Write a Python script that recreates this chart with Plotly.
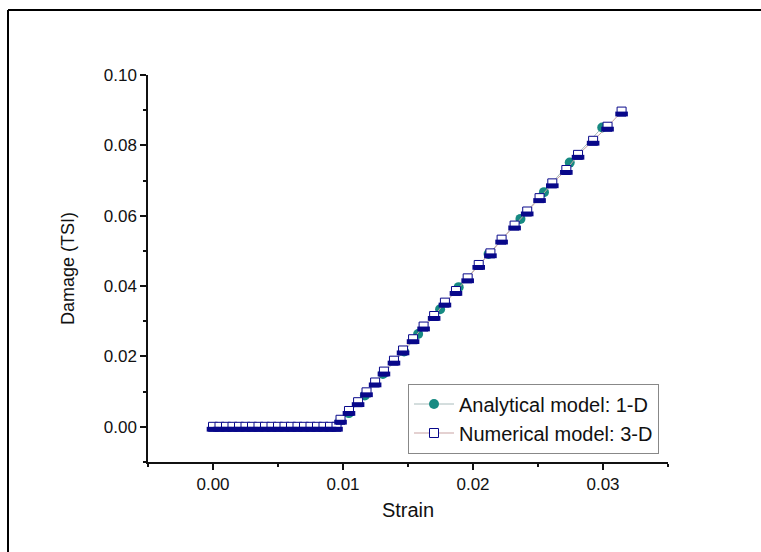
import plotly.graph_objects as go

# ---- data ----
num_strain = [0.0000, 0.0005, 0.0010, 0.0015, 0.0020, 0.0025, 0.0030, 0.0035, 0.0040, 0.0045,
              0.0050, 0.0055, 0.0060, 0.0065, 0.0070, 0.0075, 0.0080, 0.0085, 0.0090, 0.0095,
              0.00981, 0.01046, 0.01116, 0.01181, 0.01247, 0.01315, 0.01392, 0.01462, 0.01539,
              0.01620, 0.01701, 0.01784, 0.01869, 0.01959, 0.02044, 0.02134, 0.02220, 0.02320,
              0.02417, 0.02512, 0.02610, 0.02718, 0.02808, 0.02924, 0.03035, 0.03143]
num_damage = [0.0] * 20 + [
              0.0020, 0.0045, 0.0070, 0.0098, 0.0126, 0.0157, 0.0188, 0.0217, 0.0249,
              0.0285, 0.0315, 0.0353, 0.0386, 0.0422, 0.0460, 0.0493, 0.0532, 0.0572,
              0.0612, 0.0650, 0.0692, 0.0730, 0.0773, 0.0813, 0.0853, 0.0896]

ana_strain = [0.0098, 0.01045, 0.01168, 0.01307, 0.01470, 0.01578, 0.01747, 0.01890,
              0.02120, 0.02365, 0.02546, 0.02744, 0.02994]
ana_damage = [0.0018, 0.0039, 0.0089, 0.0150, 0.0214, 0.0264, 0.0334, 0.0397,
              0.0491, 0.0591, 0.0667, 0.0751, 0.0851]

x_ticks = [0.00, 0.01, 0.02, 0.03]
y_ticks = [0.00, 0.02, 0.04, 0.06, 0.08, 0.10]
x_range = [-0.005, 0.035]
y_range = [-0.01, 0.10]

NAVY = "#08088a"
TEAL = "#178a82"
FONT = "Liberation Sans, Arial, sans-serif"

W, H = 761, 552
ML, MR, MT, MB = 148, 93, 75, 90
plot_h = H - MT - MB
plot_w = W - ML - MR
# half-fill bar drawn slightly below each square's centre (about 2.4 px)
half_shift = (y_range[1] - y_range[0]) / plot_h * 2.4

fig = go.Figure()

fig.add_trace(go.Scatter(
    x=ana_strain, y=ana_damage, mode="lines+markers",
    name="Analytical model: 1-D",
    line=dict(color="#a9bcbc", width=1),
    marker=dict(symbol="circle", size=10, color=TEAL, line=dict(width=0)),
))

fig.add_trace(go.Scatter(
    x=num_strain, y=num_damage, mode="lines+markers",
    name="Numerical model: 3-D",
    line=dict(color="#c9a3a3", width=1),
    marker=dict(symbol="square", size=9, color="white",
                line=dict(color=NAVY, width=1)),
))

fig.add_trace(go.Scatter(
    x=num_strain, y=[d - half_shift for d in num_damage], mode="markers",
    showlegend=False, hoverinfo="skip",
    marker=dict(symbol="line-ew", size=9, color=NAVY,
                line=dict(color=NAVY, width=4.8)),
))

# outer frame: only the top and left edges fall inside the picture
fx0 = (8 - ML) / plot_w
fy1 = (MT + plot_h - 10) / plot_h
frame = [
    dict(type="line", xref="paper", yref="paper", x0=fx0, x1=1.3, y0=fy1, y1=fy1,
         line=dict(color="black", width=2), layer="below"),
    dict(type="line", xref="paper", yref="paper", x0=fx0, x1=fx0, y0=-0.4, y1=fy1,
         line=dict(color="black", width=2), layer="below"),
]

fig.update_layout(
    width=W, height=H,
    margin=dict(l=ML, r=MR, t=MT, b=MB),
    paper_bgcolor="white", plot_bgcolor="white",
    font=dict(family=FONT, color="#111111", size=17),
    showlegend=True,
    legend=dict(x=(408 - ML) / plot_w, y=(MT + plot_h - 418.5) / plot_h,
                xanchor="left", yanchor="middle",
                bgcolor="white", bordercolor="#888888", borderwidth=1,
                font=dict(size=20, family=FONT, color="#111111"),
                itemwidth=40, tracegroupgap=0),
    shapes=frame,
)

fig.update_xaxes(
    range=x_range, tickvals=x_ticks, tickformat=".2f",
    showline=True, linecolor="#111111", linewidth=1.5,
    ticks="outside", ticklen=6, tickwidth=1.5, tickcolor="#111111",
    minor=dict(dtick=0.005, tick0=0, ticks="outside", ticklen=3, tickwidth=1.5, tickcolor="#111111"),
    showgrid=False, zeroline=False, mirror=False,
    title=dict(text="Strain", font=dict(size=20, family=FONT), standoff=10),
    tickfont=dict(size=17, family=FONT),
)
fig.update_yaxes(
    range=y_range, tickvals=y_ticks, tickformat=".2f",
    showline=True, linecolor="#111111", linewidth=1.5,
    ticks="outside", ticklen=6, tickwidth=1.5, tickcolor="#111111",
    minor=dict(dtick=0.01, tick0=0, ticks="outside", ticklen=3, tickwidth=1.5, tickcolor="#111111"),
    showgrid=False, zeroline=False, mirror=False,
    title=dict(text="Damage (TSI)", font=dict(size=18, family=FONT), standoff=24),
    tickfont=dict(size=17, family=FONT),
)

fig.write_html(
    "out.html",
    config={"displayModeBar": False},
    post_script=("document.documentElement.style.margin='0';"
                 "document.body.style.margin='0';"
                 "document.documentElement.style.overflow='hidden';"
                 "document.body.style.overflow='hidden';"),
)
